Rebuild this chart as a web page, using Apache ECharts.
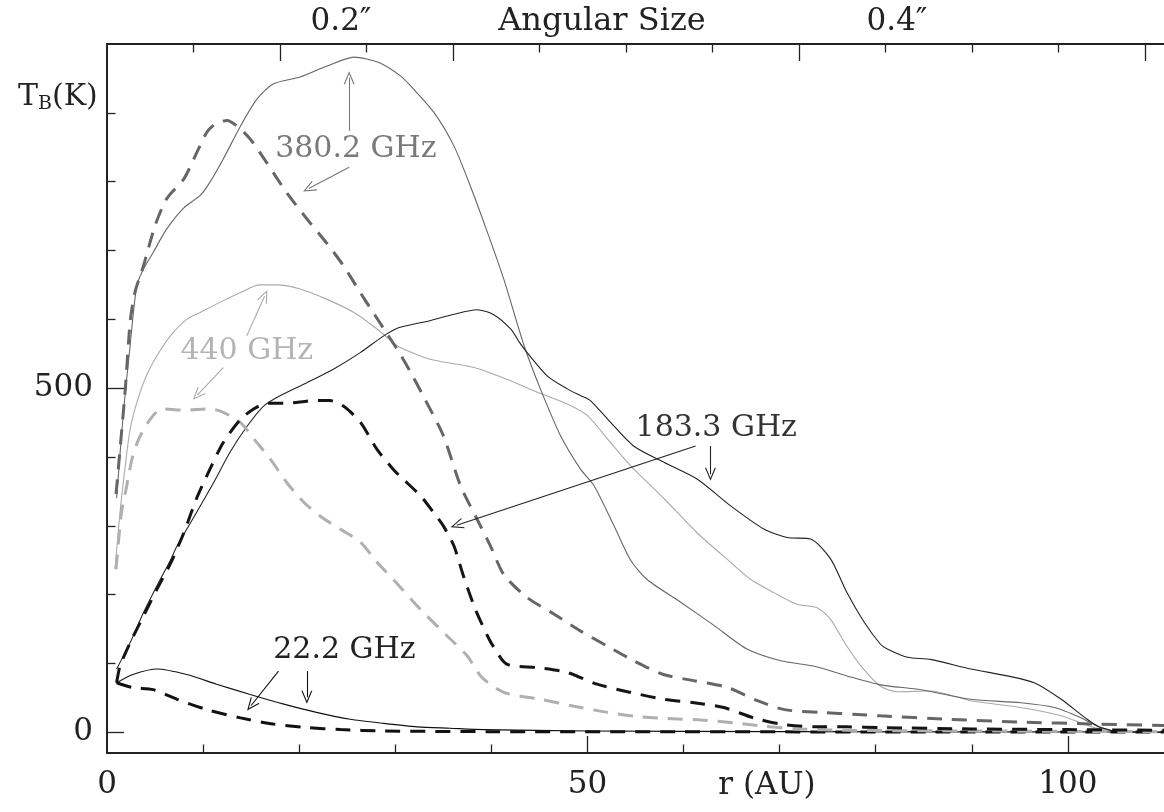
<!DOCTYPE html>
<html>
<head>
<meta charset="utf-8">
<script src="https://cdn.jsdelivr.net/npm/echarts@6/dist/echarts.min.js"></script>
<style>
  html, body { margin: 0; background: #fff; }
  #main { width: 1164px; height: 812px; }
</style>
</head>
<body>
<div id="main"></div>
<script>
// radius r (AU) vs brightness temperature T_B (K)
const water380Solid = [[1.0,340],[1.7,464],[2.4,561],[3.1,649],[3.8,673],[4.8,697],[6.2,731],[8.0,762],[9.7,780],[10.7,799],[12.1,833],[13.9,881],[15.6,920],[17.3,942],[20.1,952],[22.9,968],[25.7,981],[28.3,973],[30.5,954],[31.6,939],[34.0,901],[36.1,852],[37.8,794],[39.6,726],[41.3,658],[43.4,562],[45.1,499],[47.2,431],[49.3,382],[50.7,358],[52.7,302],[54.5,250],[56.2,222],[59.7,189],[63.2,155],[66.6,121],[70.1,104],[73.6,96],[77.0,82],[80.5,69],[84.7,62],[89.9,48],[95.1,43],[98.6,36],[101.4,21],[103.4,7],[105.5,1],[110,0]]
const water380Dash = [[0.94,346],[1.9,498],[2.4,595],[2.9,639],[3.8,678],[5.0,736],[6.2,775],[8.0,804],[8.7,823],[9.5,847],[10.4,872],[11.3,884],[12.5,889],[13.5,881],[14.9,862],[16.6,828],[18.7,784],[20.8,746],[22.9,710],[24.6,678],[26.4,638],[27.7,610],[29.1,580],[30.4,552],[31.6,523],[32.9,489],[35.0,431],[36.8,358],[38.5,310],[39.9,271],[41.3,229],[43.7,196],[46.5,172],[49.3,147],[52.1,125],[54.8,104],[57.9,84],[61.1,75],[64.6,65],[67.7,46],[70.5,33],[74.3,29],[78.1,26],[80.5,24],[87.5,19],[95.1,15],[103.1,12],[110,10]]
const water440Solid = [[0.83,237],[1.35,319],[1.9,387],[2.4,440],[3.1,479],[4.1,518],[5.2,547],[6.6,576],[8.3,600],[9.7,610],[11.8,625],[13.9,639],[15.9,650],[17.7,650],[20.1,644],[22.9,629],[25.7,610],[28.1,586],[29.8,566],[30.5,559],[33.6,542],[38.2,530],[41.6,513],[44.8,494],[47.9,477],[50.0,460],[52.1,426],[54.5,387],[58.0,339],[61.4,290],[64.9,247],[67.0,222],[69.4,203],[71.8,186],[73.9,181],[75.3,164],[77.0,125],[78.6,94],[80.5,67],[82.3,59],[85.7,60],[89.9,46],[95.1,36],[99.3,24],[102.7,7],[105.5,1],[110,0]]
const water440Dash = [[0.94,237],[1.5,319],[2.05,358],[2.6,397],[3.3,426],[4.5,455],[5.7,470],[8.0,468],[10.7,470],[12.1,465],[13.9,450],[15.3,426],[17.0,397],[18.7,363],[20.5,334],[22.2,314],[24.3,295],[26.4,276],[28.1,247],[29.8,222],[32.6,179],[35.4,140],[37.5,111],[39.0,80],[41.3,58],[45.1,48],[48.6,38],[52.1,29],[55.2,23],[58.3,20],[61.8,18],[65.2,14],[68.4,9],[71.8,5],[77.0,3],[90,2],[110,1]]
const water183Solid = [[1.0,92],[2.4,130],[3.8,174],[5.2,213],[6.6,250],[7.3,271],[9.3,319],[11.1,363],[12.8,407],[14.6,445],[16.3,474],[18.0,489],[20.8,508],[23.6,528],[26.4,552],[28.8,576],[30.4,588],[33.6,598],[36.0,607],[38.5,614],[40.2,607],[42.0,586],[43.0,565],[43.7,552],[45.8,518],[47.9,499],[49.3,489],[50.3,482],[52.1,455],[54.8,416],[58.0,392],[61.4,368],[64.9,329],[68.4,295],[70.8,283],[73.2,281],[75.3,252],[77.0,203],[78.8,160],[80.5,128],[81.2,121],[83.3,109],[85.7,106],[89.9,92],[93.7,82],[96.5,72],[99.3,48],[102.0,19],[103.4,7],[105.5,1],[110,0]]
const water183Dash = [[1.0,72],[1.35,96],[2.4,130],[3.8,169],[5.2,208],[6.6,245],[8.0,290],[9.3,339],[10.7,382],[12.1,421],[13.9,455],[15.3,470],[16.6,478],[18.7,478],[21.5,482],[23.2,482],[24.6,474],[26.4,450],[28.1,411],[29.8,382],[30.5,372],[32.6,344],[34.0,319],[35.0,300],[36.1,271],[37.1,227],[38.3,180],[39.6,140],[40.2,125],[41.6,99],[44.8,94],[47.9,87],[51.0,70],[54.5,58],[58.0,48],[61.1,43],[64.2,36],[67.3,21],[70.1,12],[73.6,8],[77.0,8],[80.5,7],[90,5],[100,4],[110,3]]
const water22Solid = [[1.0,72],[2.7,84],[5.2,92],[8.3,84],[11.4,70],[14.9,55],[18.4,41],[21.8,29],[25.3,19],[28.8,13],[32.3,8],[35.7,6],[39.2,4],[50,2],[70,1],[110,0.5]]
const water22Dash = [[1.0,72],[2.7,65],[4.8,62],[7.3,48],[10.4,33],[13.9,21],[17.3,12],[20.8,7],[24.3,4],[28.8,2],[40,1],[110,0.5]]

// axis ticks
const rMajorTicks = [0, 50, 100]
const rMinorTicks = [10, 20, 30, 40, 60, 70, 80, 90]
const angMajorTicks = [18, 36, 72, 108]
const angMinorTicks = [9, 27, 45, 54, 63, 81, 90, 99]
const tMajorTicks = [0, 500]
const tMinorTicks = [100, 200, 300, 400, 600, 700, 800, 900]

// annotations: [label, r, T] and arrows [[from], [to]]
const label380 = ['380.2 GHz', 25.9, 847]
const label440 = ['440 GHz', 14.55, 554]
const label183 = ['183.3 GHz', 63.4, 442]
const label22 = ['22.2 GHz', 24.7, 119]
const arrows380 = [[[25.2, 874], [25.2, 951]], [[25.2, 821], [21.0, 790]]]
const arrows440 = [[[14.55, 576], [16.4, 634]], [[12.1, 530], [9.4, 490]]]
const arrows183 = [[[61.25, 416], [36.4, 301]], [[62.8, 416], [62.8, 375]]]
const arrows22 = [[[17.85, 89], [15.0, 39]], [[20.8, 89], [20.8, 51]]]

const FONT = 'DejaVu Serif'
const ARROW = 'path://M5,0L10,11L8.9,11L5,2.4L1.1,11L0,11Z'

function curve(data, color, dashed) {
  return {
    type: 'line',
    data: data,
    symbol: 'none',
    smooth: 0.25,
    silent: true,
    lineStyle: {
      color: color,
      width: dashed ? 3 : 1.1,
      type: dashed ? [15, 10] : 'solid'
    },
    z: dashed ? 3 : 2
  }
}

function annotate(series, color, textColor, label, arrows) {
  series.markLine = {
    silent: true,
    symbol: ['none', ARROW],
    symbolSize: [11, 13],
    label: { show: false },
    lineStyle: { color: color, width: 1.1, type: 'solid' },
    data: arrows.map(a => [{ coord: a[0] }, { coord: a[1] }])
  }
  series.markPoint = {
    silent: true,
    symbol: 'rect',
    symbolSize: 1,
    itemStyle: { color: 'rgba(0,0,0,0)' },
    label: {
      show: true,
      position: 'inside',
      formatter: '{b}',
      color: textColor,
      fontFamily: FONT,
      fontSize: 30
    },
    data: [{ name: label[0], coord: [label[1], label[2]] }]
  }
  return series
}

function xAxisOf(pos, ticks, len, showLine, labels) {
  return {
    type: 'value', position: pos, min: 0, max: 110,
    axisLine: { show: showLine, onZero: false, lineStyle: { color: '#222', width: 2 } },
    axisTick: { show: true, inside: true, length: len, customValues: ticks, lineStyle: { color: '#222', width: 1.3 } },
    axisLabel: labels ? { customValues: labels, margin: 16, color: '#222', fontFamily: FONT, fontSize: 31 } : { show: false },
    splitLine: { show: false }
  }
}

function yAxisOf(ticks, len, showLine, labels) {
  return {
    type: 'value', position: 'left', min: -30, max: 1000,
    axisLine: { show: showLine, onZero: false, lineStyle: { color: '#222', width: 2 } },
    axisTick: { show: true, inside: true, length: len, customValues: ticks, lineStyle: { color: '#222', width: 1.3 } },
    axisLabel: labels ? { customValues: labels, margin: 14, color: '#222', fontFamily: FONT, fontSize: 31 } : { show: false },
    splitLine: { show: false }
  }
}

const chart = echarts.init(document.getElementById('main'))
chart.setOption({
  animation: false,
  backgroundColor: '#fff',
  grid: { left: 107, right: 0, top: 44, bottom: 59 },
  xAxis: [
    xAxisOf('bottom', rMajorTicks.slice(1), 17, true, rMajorTicks),
    xAxisOf('bottom', rMinorTicks, 8.5, false, null),
    xAxisOf('top', angMajorTicks, 17, true, null),
    xAxisOf('top', angMinorTicks, 8.5, false, null)
  ],
  yAxis: [
    yAxisOf(tMajorTicks, 17, true, tMajorTicks),
    yAxisOf(tMinorTicks, 8.5, false, null)
  ],
  graphic: [
    { type: 'text', x: 341, y: 22, style: { text: '0.2\u2033', font: '31px "DejaVu Serif"', fill: '#222', align: 'center', verticalAlign: 'middle' } },
    { type: 'text', x: 602, y: 22, style: { text: 'Angular Size', font: '32px "DejaVu Serif"', fill: '#222', align: 'center', verticalAlign: 'middle' } },
    { type: 'text', x: 897, y: 22, style: { text: '0.4\u2033', font: '31px "DejaVu Serif"', fill: '#222', align: 'center', verticalAlign: 'middle' } },
    { type: 'text', x: 767, y: 786, style: { text: 'r (AU)', font: '31px "DejaVu Serif"', fill: '#222', align: 'center', verticalAlign: 'middle' } },
    {
      type: 'text', x: 18, y: 97,
      style: {
        text: '{t|T}{s|B}{t|(K)}',
        verticalAlign: 'middle',
        rich: {
          t: { fontFamily: FONT, fontSize: 30, fill: '#222' },
          s: { fontFamily: FONT, fontSize: 19, fill: '#222', padding: [14, 0, 0, 0] }
        }
      }
    }
  ],
  series: [
    curve(water22Dash, '#111', true),
    annotate(curve(water22Solid, '#111', false), '#111', '#222', label22, arrows22),
    curve(water440Dash, '#b0b0b0', true),
    annotate(curve(water440Solid, '#aaa', false), '#aaa', '#b4b4b4', label440, arrows440),
    curve(water380Dash, '#666', true),
    annotate(curve(water380Solid, '#666', false), '#777', '#7a7a7a', label380, arrows380),
    curve(water183Dash, '#151515', true),
    annotate(curve(water183Solid, '#222', false), '#222', '#333', label183, arrows183)
  ]
})
</script>
</body>
</html>
